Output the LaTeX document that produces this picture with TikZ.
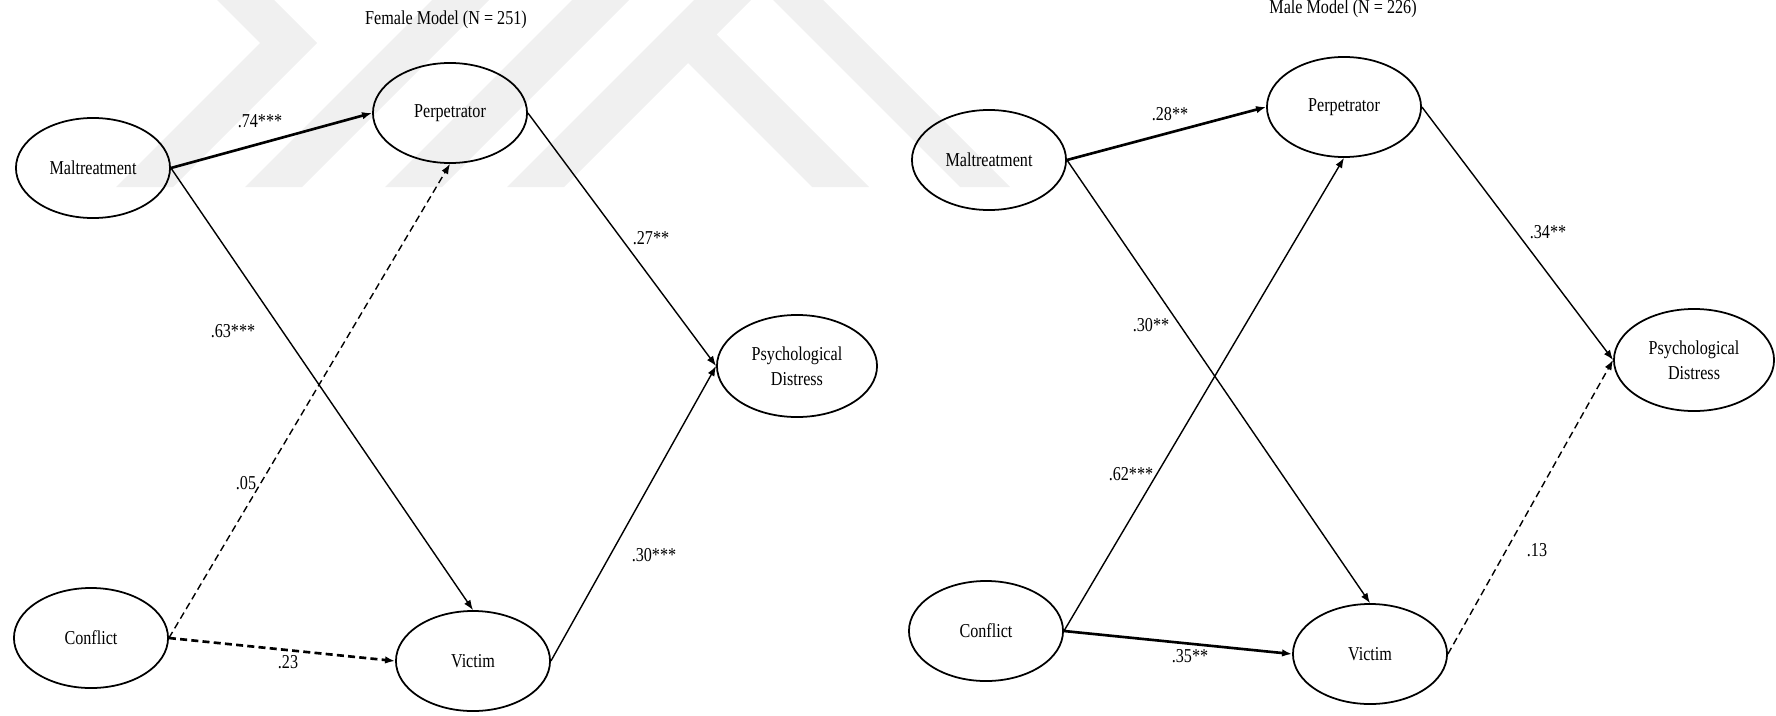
\documentclass[tikz,border=0pt]{standalone}
\usepackage{fontspec}
\setmainfont{Liberation Serif}[FakeStretch=0.82]
\usetikzlibrary{shapes.geometric,arrows.meta}
\definecolor{wmgray}{HTML}{F0F0F0}
\tikzset{
    latent/.style={
        ellipse,
        draw,
        line width=0.5pt,
        minimum width=1.54cm,
        minimum height=1cm,
        inner sep=0pt,
        align=center,
        font=\fontsize{5.6}{7}\selectfont
    },
    outcome/.style={
        latent,
        minimum width=1.6cm,
        minimum height=1.02cm
    },
    coef/.style={
        inner sep=0pt,
        font=\fontsize{5.6}{7}\selectfont
    },
    effect/.style={
        -{Latex[length=0.1cm,width=0.075cm]},
        line width=0.4pt
    },
    strong/.style={line width=0.75pt},
    nonsig/.style={dash pattern=on 2pt off 1.2pt}
}

\begin{document}
\begin{tikzpicture}[x=0.01cm, y=-0.01cm]
    \useasboundingbox (0,0) rectangle (1776,715);

    % watermark in the background
    \fill[wmgray] (217,0) -- (274,0) -- (317,43) -- (173,187) -- (116,187) -- (260,43) -- cycle;
    \fill[wmgray] (245,187) -- (302,187) -- (489,0) -- (432,0) -- cycle;
    \fill[wmgray] (385,187) -- (442,187) -- (629,0) -- (572,0) -- cycle;
    \fill[wmgray] (507,187) -- (564,187) -- (751,0) -- (694,0) -- cycle;
    \fill[wmgray] (688,6) -- (869,187) -- (812,187) -- (688,63) -- cycle;
    \fill[wmgray] (773,0) -- (823,0) -- (1010,187) -- (960,187) -- cycle;

    % female model
    \node[coef] (ftitle) at (446,20) {Female Model (N = 251)};
    \node[latent] (fmal) at (93,168) {Maltreatment};
    \node[latent] (fperp) at (450,113) {Perpetrator};
    \node[outcome] (fpsy) at (797,366) {Psychological\\Distress};
    \node[latent] (fcon) at (91,638) {Conflict};
    \node[latent] (fvic) at (473,661) {Victim};

    \draw[effect, strong] (fmal.east) -- (fperp.west);
    \draw[effect] (fmal.east) -- (fvic.north);
    \draw[effect, nonsig] (fcon.east) -- (fperp.south);
    \draw[effect, strong, nonsig] (fcon.east) -- (fvic.west);
    \draw[effect] (fperp.east) -- (fpsy.west);
    \draw[effect] (fvic.east) -- (fpsy.west);

    \node[coef] (fb1) at (260,121) {.74***};
    \node[coef] (fb2) at (233,331) {.63***};
    \node[coef] (fb3) at (651,238) {.27**};
    \node[coef] (fb4) at (246,483) {.05};
    \node[coef] (fb5) at (654,555) {.30***};
    \node[coef] (fb6) at (288,662) {.23};

    % male model
    \node[coef] (mtitle) at (1343,9) {Male Model (N = 226)};
    \node[latent] (mmal) at (989,160) {Maltreatment};
    \node[latent] (mperp) at (1344,107) {Perpetrator};
    \node[outcome] (mpsy) at (1694,360) {Psychological\\Distress};
    \node[latent] (mcon) at (986,631) {Conflict};
    \node[latent] (mvic) at (1370,654) {Victim};

    \draw[effect, strong] (mmal.east) -- (mperp.west);
    \draw[effect] (mmal.east) -- (mvic.north);
    \draw[effect] (mcon.east) -- (mperp.south);
    \draw[effect, strong] (mcon.east) -- (mvic.west);
    \draw[effect] (mperp.east) -- (mpsy.west);
    \draw[effect, nonsig] (mvic.east) -- (mpsy.west);

    \node[coef] (mb1) at (1170,114) {.28**};
    \node[coef] (mb2) at (1151,325) {.30**};
    \node[coef] (mb3) at (1548,232) {.34**};
    \node[coef] (mb4) at (1131,474) {.62***};
    \node[coef] (mb5) at (1537,550) {.13};
    \node[coef] (mb6) at (1190,656) {.35**};
\end{tikzpicture}
\end{document}
